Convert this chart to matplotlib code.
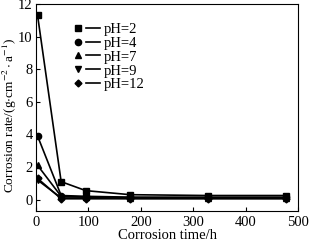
import matplotlib
matplotlib.use("Agg")
import matplotlib.pyplot as plt
from matplotlib.lines import Line2D
from matplotlib.legend_handler import HandlerTuple

plt.rcParams['font.family'] = ['Liberation Serif', 'DejaVu Serif']
plt.rcParams['mathtext.fontset'] = 'stix'

time_h = [3, 48, 95, 180, 328, 477]
ph2 = [11.3, 1.1, 0.55, 0.3, 0.25, 0.25]
ph4 = [3.9, 0.25, 0.2, 0.15, 0.15, 0.15]
ph7 = [2.1, 0.2, 0.15, 0.12, 0.1, 0.1]
ph9 = [1.2, 0.1, 0.1, 0.08, 0.08, 0.08]
ph12 = [1.3, 0.05, 0.05, 0.05, 0.05, 0.05]
labels = ["pH=2", "pH=4", "pH=7", "pH=9", "pH=12"]
markers = ["s", "o", "^", "v", "D"]

fig = plt.figure(figsize=(3.11, 2.45), dpi=100)
ax = fig.add_axes([36/311, 1 - 211/245, (298-36)/311, (211-4)/245])

handles = []
for ys, lab, m in zip([ph2, ph4, ph7, ph9, ph12], labels, markers):
    ms = 4.5 if m != 'D' else 3.5
    ax.plot(time_h, ys, color='black', marker=m, markersize=ms,
            linewidth=1.2, label=lab)
    hm = Line2D([], [], color='black', marker=m, markersize=ms, linestyle='none')
    hl = Line2D([], [], color='black', linewidth=1.2)
    handles.append((hm, hl))

ax.set_xlim(0, 500)
ax.set_ylim(-0.7, 12)
ax.set_xticks([0, 100, 200, 300, 400, 500])
ax.set_yticks([0, 2, 4, 6, 8, 10, 12])
ax.tick_params(direction='in', labelsize=10.5, length=3, width=0.8)
ax.tick_params(axis='y', pad=2.5)
for s in ax.spines.values():
    s.set_linewidth(0.8)
ax.set_xlabel("Corrosion time/h", fontsize=10.5, labelpad=0)
ax.set_ylabel(r"Corrosion rate/(g$\cdot$cm$^{-2}\cdot$a$^{-1}$)", fontsize=9.6)
ax.yaxis.set_label_coords(-0.066, 0.46)

ax.legend(handles, labels, handler_map={tuple: HandlerTuple(ndivide=None, pad=0.0)},
          loc='upper left', bbox_to_anchor=(0.095, 0.96), frameon=False, fontsize=10.5,
          handlelength=2.0, handletextpad=0.25, labelspacing=0.05, borderpad=0.2)

fig.savefig("out.png", dpi=100)
